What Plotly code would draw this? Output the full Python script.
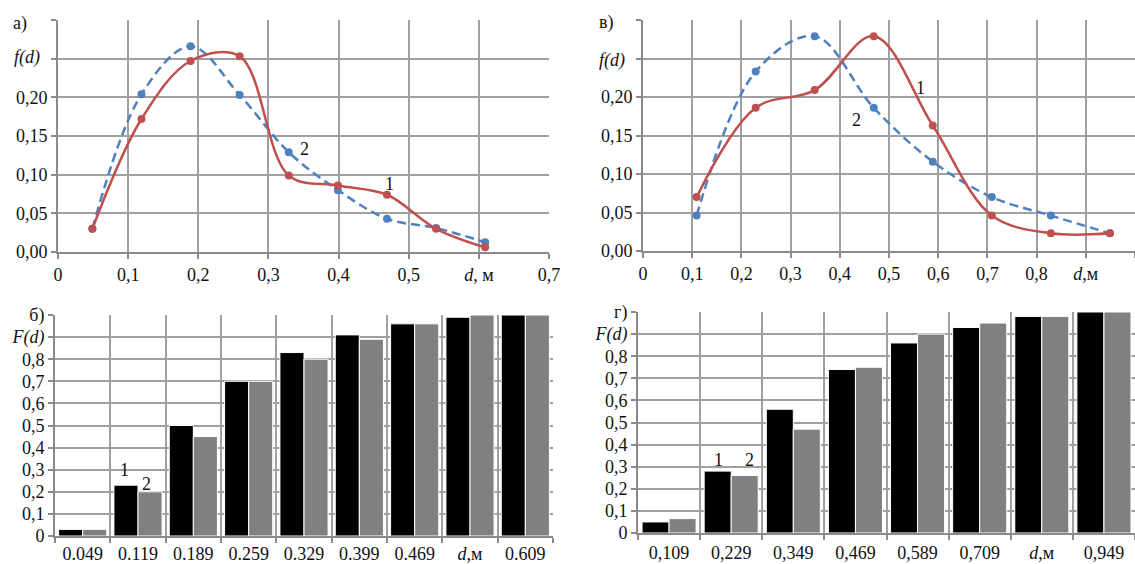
import plotly.graph_objects as go

# ---------------- data ----------------
# panel a) densities, d in m
d_a = [0.049, 0.119, 0.189, 0.259, 0.329, 0.399, 0.469, 0.539, 0.609]
f_a1 = [0.030, 0.172, 0.247, 0.253, 0.099, 0.086, 0.074, 0.030, 0.006]
f_a2 = [0.030, 0.204, 0.266, 0.203, 0.129, 0.080, 0.043, 0.031, 0.0125]
xa_ticks = [0, 0.1, 0.2, 0.3, 0.4, 0.5, 0.6, 0.7]
xa_text = ["0", "0,1", "0,2", "0,3", "0,4", "0,5", "<i>d</i>, м", "0,7"]

# panel в) densities
d_v = [0.109, 0.229, 0.349, 0.469, 0.589, 0.709, 0.829, 0.949]
f_v1 = [0.070, 0.186, 0.209, 0.279, 0.163, 0.046, 0.023, 0.023]
f_v2 = [0.046, 0.233, 0.279, 0.186, 0.116, 0.070, 0.046, 0.023]
xv_ticks = [0, 0.1, 0.2, 0.3, 0.4, 0.5, 0.6, 0.7, 0.8, 0.9, 1.0]
xv_text = ["0", "0,1", "0,2", "0,3", "0,4", "0,5", "0,6", "0,7", "0,8", "<i>d</i>,м", "1"]

f_yticks = [0, 0.05, 0.10, 0.15, 0.20, 0.25, 0.30]
f_ytext = ["0,00", "0,05", "0,10", "0,15", "0,20", "", ""]

# panel б) cumulative
cat_b = ["0.049", "0.119", "0.189", "0.259", "0.329", "0.399", "0.469", "0.539", "0.609"]
lab_b = ["0.049", "0.119", "0.189", "0.259", "0.329", "0.399", "0.469", "<i>d</i>,м", "0.609"]
F_b1 = [0.03, 0.23, 0.50, 0.70, 0.83, 0.91, 0.96, 0.99, 1.00]
F_b2 = [0.03, 0.20, 0.45, 0.70, 0.80, 0.89, 0.96, 1.00, 1.00]

# panel г) cumulative
cat_g = ["0,109", "0,229", "0,349", "0,469", "0,589", "0,709", "0,829", "0,949"]
lab_g = ["0,109", "0,229", "0,349", "0,469", "0,589", "0,709", "<i>d</i>,м", "0,949"]
F_g1 = [0.05, 0.28, 0.56, 0.74, 0.86, 0.93, 0.98, 1.00]
F_g2 = [0.065, 0.26, 0.47, 0.75, 0.90, 0.95, 0.98, 1.00]

F_yticks = [0, 0.1, 0.2, 0.3, 0.4, 0.5, 0.6, 0.7, 0.8, 0.9, 1.0]
F_ytext_b = ["0", "0,1", "0,2", "0,3", "0,4", "0,5", "0,6", "0,7", "0,8", "<i>F(d)</i>", "б)"]
F_ytext_g = ["0", "0,1", "0,2", "0,3", "0,4", "0,5", "0,6", "0,7", "0,8", "<i>F(d)</i>", "г)"]

# ---------------- styles ----------------
RED = "#C0504D"
BLUE = "#4F81BD"
FONT = "Liberation Serif"
FS = 18
GRID = "#a0a0a0"
AXIS = "#8a8a8a"

W, H = 1135, 564

fig = go.Figure()

# top-left
fig.add_trace(go.Scatter(x=d_a, y=f_a2, mode="lines+markers", line=dict(color=BLUE, width=2.5, dash="9px,5px", shape="spline"),
                         marker=dict(color=BLUE, size=8), xaxis="x", yaxis="y", showlegend=False))
fig.add_trace(go.Scatter(x=d_a, y=f_a1, mode="lines+markers", line=dict(color=RED, width=2.5, shape="spline"),
                         marker=dict(color=RED, size=8), xaxis="x", yaxis="y", showlegend=False))
# top-right
fig.add_trace(go.Scatter(x=d_v, y=f_v2, mode="lines+markers", line=dict(color=BLUE, width=2.5, dash="9px,5px", shape="spline"),
                         marker=dict(color=BLUE, size=8), xaxis="x2", yaxis="y2", showlegend=False))
fig.add_trace(go.Scatter(x=d_v, y=f_v1, mode="lines+markers", line=dict(color=RED, width=2.5, shape="spline"),
                         marker=dict(color=RED, size=8), xaxis="x2", yaxis="y2", showlegend=False))
# bottom-left
fig.add_trace(go.Bar(x=cat_b, y=F_b1, marker=dict(color="#000000", line=dict(color="white", width=1)),
                     xaxis="x3", yaxis="y3", showlegend=False))
fig.add_trace(go.Bar(x=cat_b, y=F_b2, marker=dict(color="#808080", line=dict(color="white", width=1)),
                     xaxis="x3", yaxis="y3", showlegend=False))
# bottom-right
fig.add_trace(go.Bar(x=cat_g, y=F_g1, marker=dict(color="#000000", line=dict(color="white", width=1)),
                     xaxis="x4", yaxis="y4", showlegend=False))
fig.add_trace(go.Bar(x=cat_g, y=F_g2, marker=dict(color="#808080", line=dict(color="white", width=1)),
                     xaxis="x4", yaxis="y4", showlegend=False))

axfont = dict(family=FONT, size=FS, color="#111111")
common = dict(showgrid=True, gridcolor=GRID, gridwidth=2, showline=True, linecolor=AXIS, linewidth=2,
              ticks="outside", tickcolor=AXIS, ticklen=5, tickwidth=2, tickfont=axfont, zeroline=False,
              fixedrange=True, automargin=False)

def px_x(a, b):
    return [a / W, min(b / W, 1.0)]

def px_y(top, bottom):
    return [1 - bottom / H, 1 - top / H]

fig.update_layout(
    width=W, height=H, margin=dict(l=0, r=0, t=0, b=0, autoexpand=False),
    paper_bgcolor="white", plot_bgcolor="white",
    barmode="group", bargap=0.13, bargroupgap=0,
    font=dict(family=FONT, size=FS, color="#111111"),
    xaxis=dict(domain=px_x(58, 549), range=[0, 0.7], tickmode="array", tickvals=xa_ticks, ticktext=xa_text,
               anchor="y", **common),
    yaxis=dict(domain=px_y(20, 252), range=[0, 0.30], tickmode="array", tickvals=f_yticks, ticktext=f_ytext,
               anchor="x", **common),
    xaxis2=dict(domain=px_x(643, 1135), range=[0, 1.0], tickmode="array", tickvals=xv_ticks, ticktext=xv_text,
                anchor="y2", **common),
    yaxis2=dict(domain=px_y(20, 251), range=[0, 0.30], tickmode="array", tickvals=f_yticks, ticktext=f_ytext,
                anchor="x2", **common),
    xaxis3=dict(domain=px_x(55, 553), type="category", tickmode="array", tickvals=cat_b, ticktext=lab_b,
                tickson="boundaries", anchor="y3", **common),
    yaxis3=dict(domain=px_y(315, 536), range=[0, 1.0], tickmode="array", tickvals=F_yticks, ticktext=F_ytext_b,
                anchor="x3", **common),
    xaxis4=dict(domain=px_x(638, 1135), type="category", tickmode="array", tickvals=cat_g, ticktext=lab_g,
                tickson="boundaries", anchor="y4", ticklabelstandoff=2, **common),
    yaxis4=dict(domain=px_y(312, 533), range=[0, 1.0], tickmode="array", tickvals=F_yticks, ticktext=F_ytext_g,
                anchor="x4", **common),
)

ann = []
def add_paper(text, x, y):
    ann.append(dict(text=text, x=x / W, y=1 - y / H, xref="paper", yref="paper", showarrow=False,
                    xanchor="center", yanchor="middle", font=axfont))

add_paper("а)", 20, 24)
add_paper("<i>f(d)</i>", 27, 58)
add_paper("в)", 606, 23)
add_paper("<i>f(d)</i>", 612, 60)

def add_data(text, x, y, xr, yr, xshift=0):
    ann.append(dict(text=text, x=x, y=y, xref=xr, yref=yr, showarrow=False, xshift=xshift,
                    xanchor="center", yanchor="middle", font=axfont))

add_data("2", 0.352, 0.133, "x", "y")
add_data("1", 0.472, 0.088, "x", "y")
add_data("1", 0.563, 0.212, "x2", "y2")
add_data("2", 0.433, 0.170, "x2", "y2")
# bar-panel labels placed at category index 1 (second group)
add_data("1", 1, 0.30, "x3", "y3", xshift=-14)
add_data("2", 1, 0.235, "x3", "y3", xshift=8)
add_data("1", 1, 0.33, "x4", "y4", xshift=-13)
add_data("2", 1, 0.33, "x4", "y4", xshift=18)

fig.update_layout(annotations=ann)

fig.write_html("out.html", config={"displayModeBar": False},
               post_script="document.body.style.margin='0';document.body.style.overflow='hidden';")
